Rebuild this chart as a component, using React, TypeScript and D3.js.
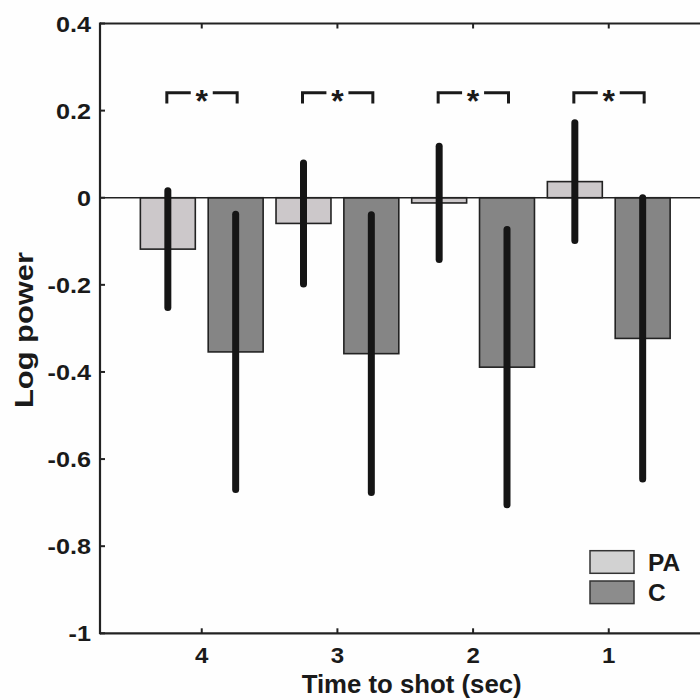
import React from "react";
import * as d3 from "d3";

const categories = [4, 3, 2, 1];
const seriesNames = ["PA", "C"];
const paMeans = [-0.118, -0.059, -0.012, 0.037];
const cMeans = [-0.354, -0.358, -0.389, -0.323];
const paErrors = [0.134, 0.139, 0.13, 0.135];
const cErrors = [0.316, 0.319, 0.316, 0.323];
const yTicks = [0.4, 0.2, 0, -0.2, -0.4, -0.6, -0.8, -1];
const yTickLabels = ["0.4", "0.2", "0", "-0.2", "-0.4", "-0.6", "-0.8", "-1"];
const seriesColors = ["#ccc8ca", "#858585"];
const legendColors = ["#d2d2d2", "#8c8c8c"];

const W = 700;
const H = 700;
const FONT = "'Liberation Sans', Arial, sans-serif";
const INK = "#1a1a1a";

export default function App() {
  const x = d3.scaleLinear().domain([4.75, 0.25]).range([100, 710.5]);
  const y = d3.scaleLinear().domain([-1, 0.4]).range([633.3, 23.5]);
  const offset = d3.scalePoint().domain(seriesNames).range([-0.25, 0.25]);
  const unit = x(3) - x(4);
  const barW = 0.405 * unit;
  const center = (cat: number, s: string) => x(cat) + offset(s)! * unit;

  const series = [
    { name: "PA", means: paMeans, errs: paErrors, color: seriesColors[0] },
    { name: "C", means: cMeans, errs: cErrors, color: seriesColors[1] },
  ];

  const left = x(4.75);
  const right = x(0.25);

  return (
    <svg
      width={W}
      height={H}
      style={{ position: "absolute", left: 0, top: 0, background: "#fff" }}
      fontFamily={FONT}
    >
      <rect x={0} y={0} width={W} height={H} fill="#fefefe" />
      {series.map((s) =>
        categories.map((c, i) => {
          const cx = center(c, s.name);
          const v = s.means[i];
          const y0 = y(0);
          const y1 = y(v);
          return (
            <rect
              key={s.name + c}
              x={cx - barW / 2}
              y={Math.min(y0, y1)}
              width={barW}
              height={Math.abs(y1 - y0)}
              fill={s.color}
              stroke="#222"
              strokeWidth={1.6}
            />
          );
        })
      )}
      <line x1={left} x2={right} y1={y(0)} y2={y(0)} stroke="#222" strokeWidth={1.5} />
      {series.map((s) =>
        categories.map((c, i) => {
          const cx = center(c, s.name);
          const v = s.means[i];
          return (
            <line
              key={"e" + s.name + c}
              x1={cx}
              x2={cx}
              y1={y(v + s.errs[i])}
              y2={y(v - s.errs[i])}
              stroke="#151515"
              strokeWidth={7}
              strokeLinecap="round"
            />
          );
        })
      )}
      {categories.map((c) => {
        const x1 = center(c, "PA") - 1;
        const x2 = center(c, "C") + 1.5;
        const mid = x(c);
        const yt = 92.7;
        const yb = 103.5;
        return (
          <g key={"sig" + c} stroke={INK} strokeWidth={3} fill="none">
            <path d={`M${x1},${yb} V${yt} H${mid - 11}`} />
            <path d={`M${mid + 11},${yt} H${x2} V${yb}`} />
            <text
              x={mid}
              y={112}
              textAnchor="middle"
              fontSize={32}
              fontWeight="bold"
              fill={INK}
              stroke="none"
            >
              *
            </text>
          </g>
        );
      })}
      <line x1={left} x2={right} y1={y(0.4)} y2={y(0.4)} stroke="#222" strokeWidth={2.2} />
      <line x1={left} x2={right} y1={y(-1)} y2={y(-1)} stroke="#222" strokeWidth={2.2} />
      <line x1={left} x2={left} y1={y(0.4) - 1} y2={y(-1) + 1} stroke="#222" strokeWidth={2.2} />
      {yTicks.map((t, i) => (
        <g key={"yt" + t}>
          <line x1={left} x2={left + 5} y1={y(t)} y2={y(t)} stroke="#222" strokeWidth={2} />
          <text
            transform={`translate(91, ${y(t) + 8}) scale(1.12,1)`}
            textAnchor="end"
            fontSize={22.5}
            fontWeight="bold"
            fill={INK}
          >
            {yTickLabels[i]}
          </text>
        </g>
      ))}
      {categories.map((c) => (
        <g key={"xt" + c}>
          <line x1={x(c)} x2={x(c)} y1={y(-1)} y2={y(-1) - 5} stroke="#222" strokeWidth={2} />
          <line x1={x(c)} x2={x(c)} y1={y(0.4)} y2={y(0.4) + 5} stroke="#222" strokeWidth={2} />
          <text
            transform={`translate(${x(c)}, 663.3) scale(1.12,1)`}
            textAnchor="middle"
            fontSize={21.5}
            fontWeight="bold"
            fill={INK}
          >
            {String(c)}
          </text>
        </g>
      ))}
      <text
        x={411.7}
        y={693}
        textAnchor="middle"
        fontSize={26}
        fontWeight="bold"
        fill={INK}
        textLength={220}
        lengthAdjust="spacingAndGlyphs"
      >
        Time to shot (sec)
      </text>
      <text
        transform={`translate(33, 330) rotate(-90)`}
        textAnchor="middle"
        fontSize={26.5}
        fontWeight="bold"
        fill={INK}
        textLength={156}
        lengthAdjust="spacingAndGlyphs"
      >
        Log power
      </text>
      {seriesNames.map((n, i) => (
        <g key={"lg" + n}>
          <rect
            x={590}
            y={550.7 + i * 30.3}
            width={44}
            height={22.6}
            fill={legendColors[i]}
            stroke="#333"
            strokeWidth={1.5}
          />
          <text x={648} y={570.7 + i * 30.3} fontSize={24.5} fontWeight="bold" fill={INK}>
            {n}
          </text>
        </g>
      ))}
    </svg>
  );
}
